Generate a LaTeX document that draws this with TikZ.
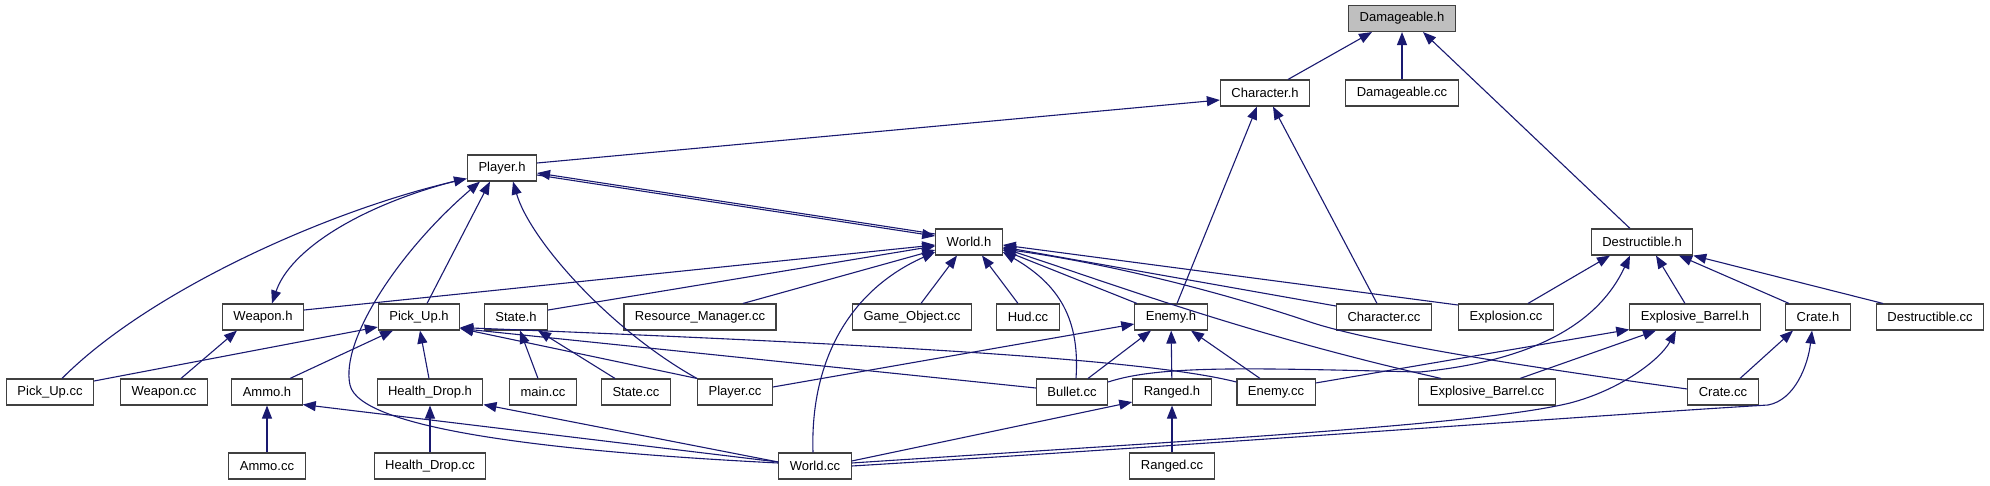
\documentclass[tikz,border=0pt]{standalone}
\usepackage{fontspec}
\setmainfont{Liberation Sans}
\usepackage{xcolor}
\usepackage{tikz}
\usetikzlibrary{arrows.meta}
\definecolor{edgeblue}{HTML}{191970}

\begin{document}
\begin{tikzpicture}[
    x=1pt, y=-1pt,
    block/.style={
        draw=black!75, rectangle, line width=1.1pt,
        minimum height=26pt, inner xsep=11pt, inner ysep=0pt,
        text centered, font=\fontsize{13pt}{15pt}\selectfont, fill=white
    },
    focus/.style={block, fill=black!25},
    arrow/.style={->, >={Triangle[length=13pt,width=10pt]}, draw=edgeblue, line width=1.1pt}
]
\useasboundingbox (0,0) rectangle (1990,485);

% --- Top: Damageable.h and its direct includers
\node (damh)        [focus] at (1402,18.5) {Damageable.h};
\node (charh)       [block] at (1265,93)   {Character.h};
\node (damcc)       [block] at (1402,93)   {Damageable.cc};

% --- Headers in the middle
\node (playerh)     [block] at (502,168)   {Player.h};
\node (worldh)      [block] at (969,242)   {World.h};
\node (desth)       [block] at (1642,242)  {Destructible.h};

% --- Row 3
\node (weaponh)     [block] at (263,317)   {Weapon.h};
\node (pickuph)     [block] at (419,317)   {Pick\_Up.h};
\node (stateh)      [block] at (516,317)   {State.h};
\node (resmgrcc)    [block] at (700,317)   {Resource\_Manager.cc};
\node (gameobjcc)   [block] at (912,317)   {Game\_Object.cc};
\node (hudcc)       [block] at (1028,317)  {Hud.cc};
\node (enemyh)      [block] at (1171,317)  {Enemy.h};
\node (charcc)      [block] at (1384,317)  {Character.cc};
\node (explosioncc) [block] at (1506,317)  {Explosion.cc};
\node (barrelh)     [block] at (1695,317)  {Explosive\_Barrel.h};
\node (crateh)      [block] at (1818,317)  {Crate.h};
\node (destcc)      [block] at (1930,317)  {Destructible.cc};

% --- Row 4
\node (pickupcc)    [block] at (50,392)    {Pick\_Up.cc};
\node (weaponcc)    [block] at (164,392)   {Weapon.cc};
\node (ammoh)       [block] at (267,392)   {Ammo.h};
\node (healthh)     [block] at (430,392)   {Health\_Drop.h};
\node (maincc)      [block] at (543,392)   {main.cc};
\node (statecc)     [block] at (636,392)   {State.cc};
\node (playercc)    [block] at (735,392)   {Player.cc};
\node (bulletcc)    [block] at (1072,392)  {Bullet.cc};
\node (rangedh)     [block] at (1172,392)  {Ranged.h};
\node (enemycc)     [block] at (1276,392)  {Enemy.cc};
\node (barrelcc)    [block] at (1487,392)  {Explosive\_Barrel.cc};
\node (cratecc)     [block] at (1723,392)  {Crate.cc};

% --- Bottom row
\node (ammocc)      [block] at (267,466)   {Ammo.cc};
\node (healthcc)    [block] at (430,466)   {Health\_Drop.cc};
\node (worldcc)     [block] at (815,466)   {World.cc};
\node (rangedcc)    [block] at (1172,466)  {Ranged.cc};

% --- Into Damageable.h and Character.h
\draw [arrow] ([xshift=23pt]charh.north)   -- ([xshift=-30pt]damh.south);
\draw [arrow] (damcc)                      -- (damh);
\draw [arrow] ([xshift=-12pt]desth.north)  -- ([xshift=21pt]damh.south);
\draw [arrow] ([yshift=5pt]playerh.east)   -- ([yshift=-7pt]charh.west);
\draw [arrow] ([xshift=6pt]enemyh.north)   -- ([xshift=-8pt]charh.south);
\draw [arrow] ([xshift=-7pt]charcc.north)  -- ([xshift=8pt]charh.south);

% --- Player.h
\draw [arrow] ([yshift=8pt]worldh.west)    -- ([yshift=-5pt]playerh.east);
\draw [arrow] ([yshift=-7pt]playerh.east)  -- ([yshift=6pt]worldh.west);
\draw [arrow] ([xshift=12pt]pickupcc.north) .. controls (150,290) and (330,210) .. ([yshift=3pt]playerh.south west);
\draw [arrow] ([xshift=-6pt,yshift=2pt]playerh.south west) .. controls (360,205) and (290,250) .. ([xshift=9pt]weaponh.north);
\draw [arrow] ([yshift=3pt]worldcc.west) .. controls (560,452) and (360,430) .. (350,385)
              .. controls (340,340) and (400,250) .. ([xshift=-22pt]playerh.south);
\draw [arrow] ([xshift=8pt]pickuph.north)  -- ([xshift=-12pt]playerh.south);
\draw [arrow] ([xshift=-38pt]playercc.north) .. controls (610,330) and (530,240) .. ([xshift=11pt]playerh.south);

% --- World.h
\draw [arrow] ([yshift=7pt]weaponh.east)   -- ([yshift=-3pt]worldh.west);
\draw [arrow] ([yshift=7pt]stateh.east)    -- ([yshift=-4pt]worldh.west);
\draw [arrow] ([xshift=43pt]resmgrcc.north) -- ([yshift=-8pt]worldh.west);
\draw [arrow] ([xshift=9pt]gameobjcc.north) -- ([xshift=-12pt]worldh.south);
\draw [arrow] ([xshift=-10pt]hudcc.north)  -- ([xshift=13pt]worldh.south);
\draw [arrow] ([xshift=-34pt]enemyh.north) -- ([yshift=-8pt]worldh.east);
\draw [arrow] ([xshift=4pt]bulletcc.north) .. controls (1080,320) and (1060,285) .. ([yshift=-10pt]worldh.east);
\draw [arrow] ([xshift=-2pt]worldcc.north) .. controls (810,360) and (850,290) .. ([yshift=-10pt]worldh.west);
\draw [arrow] ([yshift=11pt]charcc.west)   -- ([yshift=-5pt]worldh.east);
\draw [arrow] ([yshift=12pt]explosioncc.west) -- ([yshift=-3pt]worldh.east);
\draw [arrow] ([xshift=-46pt]barrelcc.north) .. controls (1250,335) and (1130,290) .. ([yshift=-6pt]worldh.east);
\draw [arrow] ([yshift=3pt]cratecc.west) .. controls (1550,370) and (1380,345) .. (1310,322)
              .. controls (1240,298) and (1120,265) .. ([yshift=-7pt]worldh.east);

% --- Pick_Up.h and State.h
\draw [arrow] ([yshift=11pt]pickupcc.east) -- ([yshift=-10pt]pickuph.west);
\draw [arrow] ([xshift=23pt]ammoh.north)   -- ([xshift=-26pt]pickuph.south);
\draw [arrow] ([xshift=-1pt]healthh.north) -- ([xshift=1pt]pickuph.south);
\draw [arrow] ([xshift=-38pt]playercc.north) -- ([yshift=2pt]pickuph.south east);
\draw [arrow] ([yshift=4pt]bulletcc.west)  -- ([yshift=2pt]pickuph.south east);
\draw [arrow] ([yshift=10pt]enemycc.west) .. controls (1150,360) and (900,345) .. ([yshift=3pt]pickuph.south east);
\draw [arrow] ([xshift=-5pt]maincc.north)  -- ([xshift=4pt]stateh.south);
\draw [arrow] ([xshift=-21pt]statecc.north) -- ([xshift=22pt]stateh.south);

% --- Enemy.h and Ranged.h
\draw [arrow] ([yshift=5pt]playercc.east)  -- ([yshift=-7pt]enemyh.west);
\draw [arrow] ([xshift=16pt]bulletcc.north) -- ([xshift=-20pt]enemyh.south);
\draw [arrow] (rangedh)                    -- (enemyh);
\draw [arrow] ([xshift=-16pt]enemycc.north) -- ([xshift=20pt]enemyh.south);
\draw [arrow] ([yshift=5pt]worldcc.east)   -- ([yshift=-10pt]rangedh.west);
\draw [arrow] (rangedcc)                   -- (rangedh);

% --- Ammo.h, Health_Drop.h, Weapon.h
\draw [arrow] (ammocc)                     -- (ammoh);
\draw [arrow] ([yshift=4pt]worldcc.west)   -- ([yshift=1pt]ammoh.south east);
\draw [arrow] (healthcc)                   -- (healthh);
\draw [arrow] ([yshift=4pt]worldcc.west)   -- ([yshift=1pt]healthh.south east);
\draw [arrow] ([xshift=17pt]weaponcc.north) -- ([xshift=-26pt]weaponh.south);

% --- Destructible.h
\draw [arrow] ([xshift=22pt]explosioncc.north) -- ([xshift=-32pt]desth.south);
\draw [arrow] ([yshift=10pt]bulletcc.east) .. controls (1160,365) and (1250,368) .. (1420,372)
              .. controls (1540,360) and (1600,320) .. ([xshift=-12pt]desth.south);
\draw [arrow] ([xshift=-10pt]barrelh.north) -- ([xshift=14pt]desth.south);
\draw [arrow] ([xshift=-29pt]crateh.north) -- ([xshift=37pt]desth.south);
\draw [arrow] ([xshift=-47pt]destcc.north) -- (desth.south east);

% --- Explosive_Barrel.h and Crate.h
\draw [arrow] ([yshift=9pt]enemycc.east)   -- ([yshift=1pt]barrelh.south west);
\draw [arrow] ([xshift=33pt]barrelcc.north) -- ([xshift=-39pt]barrelh.south);
\draw [arrow] ([yshift=3pt]worldcc.east) .. controls (1200,440) and (1480,425) .. (1570,403)
              .. controls (1620,390) and (1660,360) .. ([xshift=-19pt]barrelh.south);
\draw [arrow] ([xshift=17pt]cratecc.north) -- ([xshift=-25pt]crateh.south);
\draw [arrow] (worldcc.east) .. controls (1200,445) and (1600,415) .. (1768,405)
              .. controls (1795,400) and (1808,365) .. ([xshift=-6pt]crateh.south);

\end{tikzpicture}
\end{document}
